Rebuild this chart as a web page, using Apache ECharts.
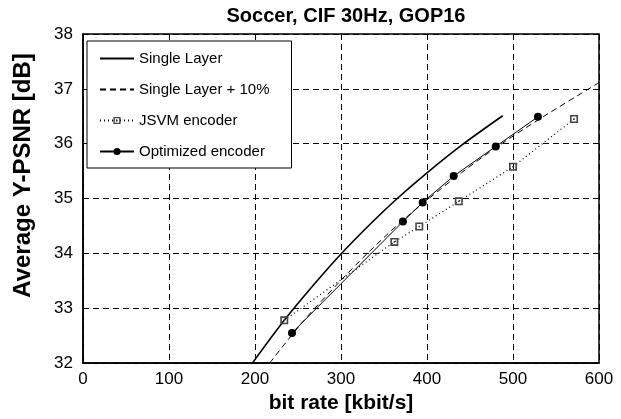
<!DOCTYPE html>
<html>
<head>
<meta charset="utf-8">
<script src="https://cdn.jsdelivr.net/npm/echarts@6/dist/echarts.min.js"></script>
<style>
  html, body { margin: 0; padding: 0; background: #fff; }
  #main { width: 621px; height: 419px; }
</style>
</head>
<body>
<div id="main"></div>
<script>
// data (bit rate kbit/s, PSNR dB)
var singleRate = [197, 234, 270, 300, 335, 366, 400, 440, 488];
var singlePsnr = [32.0, 32.78, 33.46, 33.99, 34.55, 35.01, 35.47, 35.97, 36.51];

var plus10Rate = [217, 257, 297, 330, 368, 403, 440, 484, 537, 606];
var plus10Psnr = [32.0, 32.78, 33.46, 33.99, 34.55, 35.01, 35.47, 35.97, 36.51, 37.17];

var jsvmRate = [234, 362, 391, 437, 500, 571];
var jsvmPsnr = [32.78, 34.21, 34.49, 34.95, 35.58, 36.45];

var optRate = [243, 372, 395, 431, 480, 529];
var optPsnr = [32.55, 34.58, 34.93, 35.41, 35.95, 36.49];

var xTicks = [0, 100, 200, 300, 400, 500, 600];
var yTicks = [32, 33, 34, 35, 36, 37, 38];

function pairs(xs, ys) {
  var out = [];
  for (var i = 0; i < xs.length; i++) {
    out.push([xs[i], ys[i]]);
  }
  return out;
}

var font = 'Liberation Sans, Arial, sans-serif';
// open square with a dot in the middle
var squareDot = 'path://M0,0 L10,0 L10,10 L0,10 Z M2,2 L2,8 L8,8 L8,2 Z M4,4 L6,4 L6,6 L4,6 Z';

var chart = echarts.init(document.getElementById('main'));
chart.setOption({
  animation: false,
  backgroundColor: '#fff',
  title: {
    text: 'Soccer, CIF 30Hz, GOP16',
    left: 341,
    top: 1,
    textAlign: 'center',
    textStyle: { fontFamily: font, fontSize: 20, fontWeight: 'bold', color: '#000' }
  },
  grid: {
    left: 83, right: 22, top: 34, bottom: 55,
    show: true, borderColor: '#000', borderWidth: 1.5
  },
  legend: {
    orient: 'vertical',
    left: 87,
    top: 41,
    padding: [10, 22, 9, 12],
    itemWidth: 34,
    itemHeight: 9,
    itemGap: 16,
    backgroundColor: '#fff',
    borderColor: '#000',
    borderWidth: 1,
    borderRadius: 0,
    textStyle: { fontFamily: font, fontSize: 15, color: '#000' },
    data: [
      { name: 'Single Layer', itemStyle: { opacity: 0 } },
      { name: 'Single Layer + 10%', itemStyle: { opacity: 0 } },
      'JSVM encoder',
      'Optimized encoder'
    ]
  },
  xAxis: {
    type: 'value',
    min: xTicks[0],
    max: xTicks[xTicks.length - 1],
    interval: 100,
    name: 'bit rate [kbit/s]',
    nameLocation: 'middle',
    nameGap: 27,
    nameTextStyle: { fontFamily: font, fontSize: 21, fontWeight: 'bold', color: '#000' },
    axisLine: { show: true, lineStyle: { color: '#000', width: 1.5 } },
    axisTick: { show: false },
    axisLabel: { fontFamily: font, fontSize: 17, color: '#000', margin: 8 },
    splitLine: { show: true, lineStyle: { color: '#000', width: 1, type: [6, 4] } }
  },
  yAxis: {
    type: 'value',
    min: yTicks[0],
    max: yTicks[yTicks.length - 1],
    interval: 1,
    name: 'Average Y-PSNR [dB]',
    nameLocation: 'middle',
    nameGap: 48,
    nameTextStyle: { fontFamily: font, fontSize: 24, fontWeight: 'bold', color: '#000', padding: [0, 0, 0, 46] },
    axisLine: { show: true, lineStyle: { color: '#000', width: 1.5 } },
    axisTick: { show: false },
    axisLabel: { fontFamily: font, fontSize: 17, color: '#000', margin: 10 },
    splitLine: { show: true, lineStyle: { color: '#000', width: 1, type: [6, 4] } }
  },
  series: [
    {
      name: 'Single Layer',
      type: 'line',
      data: pairs(singleRate, singlePsnr),
      symbol: 'none',
      smooth: 0.3,
      clip: false,
      itemStyle: { color: '#000' },
      lineStyle: { color: '#000', width: 1.6 }
    },
    {
      name: 'Single Layer + 10%',
      type: 'line',
      data: pairs(plus10Rate, plus10Psnr),
      symbol: 'none',
      smooth: 0.3,
      clip: false,
      itemStyle: { color: '#000' },
      lineStyle: { color: '#000', width: 1, type: [6, 4] }
    },
    {
      name: 'JSVM encoder',
      type: 'line',
      data: pairs(jsvmRate, jsvmPsnr),
      symbol: squareDot,
      symbolSize: 8,
      itemStyle: { color: '#444' },
      lineStyle: { color: '#000', width: 1.2, type: [1, 3] }
    },
    {
      name: 'Optimized encoder',
      type: 'line',
      data: pairs(optRate, optPsnr),
      symbol: 'circle',
      symbolSize: 8,
      itemStyle: { color: '#000' },
      lineStyle: { color: '#000', width: 1 }
    }
  ]
});
</script>
</body>
</html>
